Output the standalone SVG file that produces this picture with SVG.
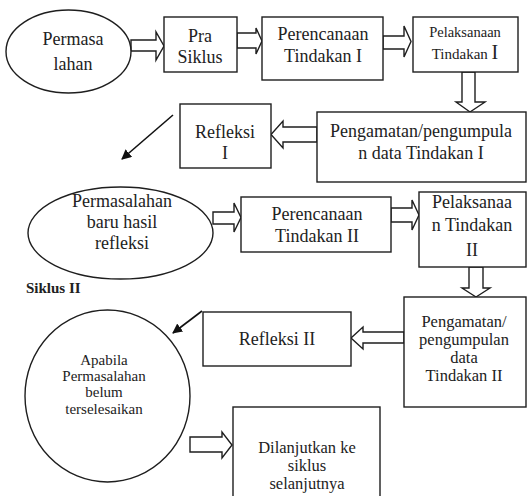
<svg xmlns="http://www.w3.org/2000/svg" width="528" height="496" viewBox="0 0 528 496">
<defs>
<style>
.n{fill:#fff;stroke:#1e1e1e;stroke-width:1.4}
.t{font-size:18px;fill:#222;text-anchor:middle}
.s{font-size:15px}
.m{font-size:16.5px}
.ba{fill:#fff;stroke:#1e1e1e;stroke-width:1.4;stroke-linejoin:miter}
.ln{stroke:#111;stroke-width:1.6;fill:none}
</style>
<marker id="ah" markerWidth="10" markerHeight="10" refX="9" refY="5" orient="auto" markerUnits="userSpaceOnUse" viewBox="0 0 10 10">
<path d="M0,0 L10,5 L0,10 z" fill="#111"/>
</marker>
</defs>
<rect width="528" height="496" fill="#fff"/>

<g id="connectors">
<polygon class="ba" points="131,40 156,40 156,32 164,46 156,60 156,51 131,51"/>
<polygon class="ba" points="237,33 256,33 256,28 262,41 256,54 256,48 237,48"/>
<polygon class="ba" points="383,36 404,36 404,26 411,41.5 404,57 404,49 383,49"/>
<polygon class="ba" points="462,72 475,72 475,102 485,102 470,112 456,102 462,102"/>
<polygon class="ba" points="317,127 283,127 283,121 271,134.5 283,148 283,142 317,142"/>
<line class="ln" x1="173" y1="115" x2="122" y2="159" marker-end="url(#ah)"/>
<polygon class="ba" points="213,212 234,212 234,203 241,217.5 234,232 234,224 213,224"/>
<polygon class="ba" points="391,208 412,208 412,200 419,215 412,230 412,222 391,222"/>
<polygon class="ba" points="469,267 483,267 483,288 490,288 476,297 462,288 469,288"/>
<polygon class="ba" points="404,332 363,332 363,327 351,338 363,349 363,343 404,343"/>
<line class="ln" x1="202" y1="311" x2="173" y2="333" marker-end="url(#ah)"/>
<polygon class="ba" points="190,437 222,437 222,432 232,445 222,458 222,452 190,452"/>
</g>

<g font-family="'Liberation Serif', 'Times New Roman', 'DejaVu Serif', serif">
<g id="n1"><ellipse class="n" cx="68.5" cy="51.5" rx="62.5" ry="41.5"/>
<text class="t" x="73" y="45">Permasa</text><text class="t" x="73" y="70">lahan</text></g>

<g id="n2"><rect class="n" x="164" y="17" width="73" height="55"/>
<text class="t" x="200" y="42">Pra</text><text class="t" x="200" y="63">Siklus</text></g>

<g id="n3"><rect class="n" x="262" y="17" width="121" height="63"/>
<text class="t" x="323" y="40">Perencanaan</text><text class="t" x="323" y="62">Tindakan I</text></g>

<g id="n4"><rect class="n" x="413" y="17" width="105" height="55"/>
<text class="t" x="465" y="37" style="font-size:14.5px">Pelaksanaan</text>
<text class="t" x="465" y="59"><tspan style="font-size:15px">Tindakan </tspan><tspan style="font-size:20px">I</tspan></text></g>

<g id="n5"><rect class="n" x="317" y="112" width="209" height="70"/>
<text class="t" x="421" y="137">Pengamatan/pengumpula</text><text class="t" x="421" y="159">n data Tindakan I</text></g>

<g id="n6"><rect class="n" x="180" y="104" width="91" height="64"/>
<text class="t" x="225" y="138">Refleksi</text><text class="t" x="225" y="159">I</text></g>

<g id="n7"><ellipse class="n" cx="120.5" cy="233" rx="92.5" ry="46"/>
<text class="t" x="122" y="207">Permasalahan</text><text class="t" x="122" y="228">baru hasil</text><text class="t" x="122" y="249">refleksi</text></g>

<g id="n8"><rect class="n" x="241" y="197" width="150" height="55"/>
<text class="t" x="317" y="220">Perencanaan</text><text class="t" x="317" y="242">Tindakan II</text></g>

<g id="n9"><rect class="n" x="419" y="192" width="107" height="75"/>
<text class="t" x="472" y="208">Pelaksanaa</text><text class="t" x="472" y="231">n Tindakan</text><text class="t" x="472" y="256">II</text></g>

<text x="26" y="293" style="font-size:15px;font-weight:bold;fill:#222">Siklus II</text>

<g id="n10"><rect class="n" x="404" y="297" width="122" height="110"/>
<text class="t m" x="464" y="327">Pengamatan/</text><text class="t m" x="464" y="345">pengumpulan</text><text class="t m" x="464" y="363">data</text><text class="t m" x="464" y="381">Tindakan II</text></g>

<g id="n11"><rect class="n" x="203" y="312" width="148" height="54"/>
<text class="t" x="277" y="345">Refleksi II</text></g>

<g id="n12"><ellipse class="n" cx="107.5" cy="396" rx="82.5" ry="86"/>
<text class="t s" x="104" y="365">Apabila</text><text class="t s" x="104" y="381">Permasalahan</text><text class="t s" x="104" y="397">belum</text><text class="t s" x="104" y="414">terselesaikan</text></g>

<g id="n13"><rect class="n" x="233" y="407" width="147" height="95"/>
<text class="t m" x="307" y="453">Dilanjutkan ke</text><text class="t m" x="307" y="471">siklus</text><text class="t m" x="307" y="489">selanjutnya</text></g>
</g>
</svg>
